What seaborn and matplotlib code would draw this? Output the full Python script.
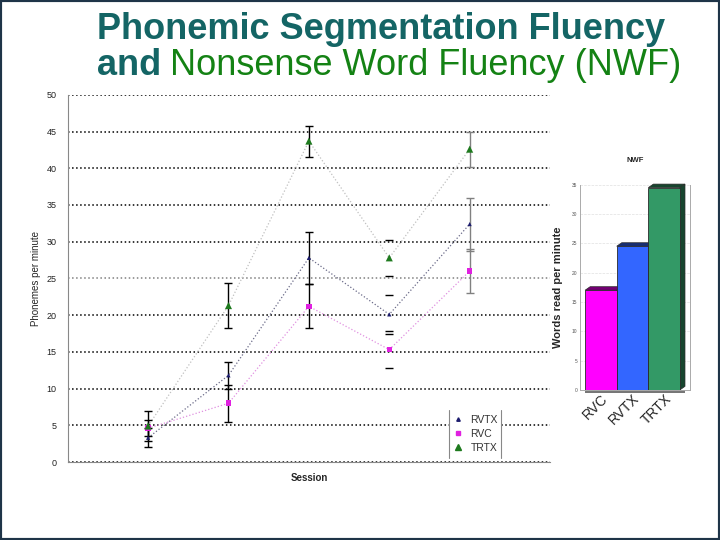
import pandas as pd
import matplotlib
matplotlib.use("Agg")
import matplotlib.pyplot as plt
import matplotlib.colors as mcolors
from matplotlib.patches import Polygon, Rectangle
from matplotlib.lines import Line2D
import seaborn as sns

# Phonemic segmentation fluency, mean and error per session
SESSIONS = [1, 2, 3, 4, 5]
GROUPS = ["RVTX", "RVC", "TRTX"]
RVTX_MEAN = [3.3, 11.8, 27.8, 20.1, 32.4]
RVTX_ERR = [1.3, 1.8, 3.5, 2.7, 3.6]
RVC_MEAN = [4.6, 8.0, 21.2, 15.3, 26.0]
RVC_ERR = [1.1, 2.5, 3.0, 2.5, 3.0]
TRTX_MEAN = [4.9, 21.3, 43.7, 27.8, 42.6]
TRTX_ERR = [2.1, 3.1, 2.1, 2.5, 2.4]

# Nonsense word fluency inset
NWF_GROUPS = ["RVC", "RVTX", "TRTX"]
NWF_MEAN = [17.0, 24.5, 34.5]

TEAL = "#146565"
GREEN = "#148214"
MARKER_COLORS = {"RVTX": "#1c1c6e", "RVC": "#e020e0", "TRTX": "#1e7a1e"}
LINE_COLORS = {"RVTX": "#6a6a88", "RVC": "#e090e0", "TRTX": "#c0c0c0"}
BAR_COLORS = ["#ff00ff", "#3366ff", "#339966"]


def build_frame():
    means = {"RVTX": RVTX_MEAN, "RVC": RVC_MEAN, "TRTX": TRTX_MEAN}
    errs = {"RVTX": RVTX_ERR, "RVC": RVC_ERR, "TRTX": TRTX_ERR}
    rows = []
    for g in GROUPS:
        for s, m, e in zip(SESSIONS, means[g], errs[g]):
            rows.append({"group": g, "session": s, "mean": m, "err": e})
    return pd.DataFrame(rows)


def plot_fluency():
    sns.set_style("white")
    plt.rcParams["font.family"] = ["Liberation Sans", "DejaVu Sans"]

    df = build_frame()
    fig = plt.figure(figsize=(7.2, 5.4), dpi=100)
    ax = fig.add_axes([0.094, 0.1444, 0.67, 0.68])

    # error bars first so markers sit on top
    err_colors = ["black", "black", "black", "black", "gray"]
    for _, r in df.iterrows():
        c = err_colors[int(r["session"]) - 1]
        cont = ax.errorbar(r["session"], r["mean"], yerr=r["err"], fmt="none",
                           ecolor=c, elinewidth=1.0, capsize=3, capthick=1.0, zorder=3)
        if r["session"] == 4:
            cont.lines[2][0].set_visible(False)

    sns.lineplot(data=df, x="session", y="mean", hue="group", palette=LINE_COLORS,
                 estimator=None, sort=False, linestyle=":", linewidth=0.9,
                 legend=False, ax=ax, zorder=2)
    sns.scatterplot(data=df, x="session", y="mean", hue="group", style="group",
                    size="group", palette=MARKER_COLORS,
                    markers={"RVTX": "^", "RVC": "s", "TRTX": "^"},
                    sizes={"RVTX": 9, "RVC": 16, "TRTX": 26},
                    edgecolor="none", legend=False, ax=ax, zorder=4)

    ax.set_xlim(0, 6)
    ax.set_ylim(0, 50)
    ax.set_xticks([])
    ax.set_yticks(range(0, 55, 5))
    ax.tick_params(axis="y", labelsize=6.5, length=0, pad=8, labelcolor="#222222")
    ax.set_ylabel("Phonemes per minute", fontsize=7, labelpad=4)
    ax.set_xlabel("Session", fontsize=7, fontweight="bold", labelpad=8)
    ax.grid(axis="y", linestyle=":", color="black", linewidth=1.1)
    ax.get_ygridlines()[5].set_color("gray")
    ax.set_axisbelow(True)
    for side in ["top", "right"]:
        ax.spines[side].set_visible(False)
    for side in ["left", "bottom"]:
        ax.spines[side].set_color("#888888")
        ax.spines[side].set_linewidth(0.8)

    # legend box with only side rules
    handles = [Line2D([], [], marker=m, linestyle="none", color=MARKER_COLORS[g], markersize=s)
               for g, m, s in zip(GROUPS, ["^", "s", "^"], [2.5, 3.5, 4.5])]
    ax.add_patch(Rectangle((0.79, 0.012), 0.108, 0.13, transform=ax.transAxes,
                           facecolor="white", edgecolor="none", zorder=5))
    for xa in [0.79, 0.898]:
        ax.add_line(Line2D([xa, xa], [0.012, 0.142], transform=ax.transAxes,
                           color="#888888", linewidth=0.8, zorder=6))
    leg = ax.legend(handles, GROUPS, loc="center", bbox_to_anchor=(0.844, 0.077),
                    frameon=False, fontsize=7.5, handletextpad=0.6, labelspacing=0.4,
                    handlelength=1.2)
    leg.set_zorder(7)
    for t in leg.get_texts():
        t.set_color("#333333")

    # NWF inset bar chart
    ax2 = fig.add_axes([0.8056, 0.278, 0.1528, 0.38])
    sns.barplot(x=NWF_GROUPS, y=NWF_MEAN, hue=NWF_GROUPS, palette=BAR_COLORS,
                saturation=1, width=1.0, edgecolor="#2a2a2a", linewidth=0.6,
                legend=False, ax=ax2, zorder=2)
    ax2.set_xlim(-0.66, 2.82)
    ax2.set_ylim(0, 35)
    dx, dy = 0.16, 0.6
    for p in ax2.patches:
        x0, w, h = p.get_x(), p.get_width(), p.get_height()
        dark = [c * 0.45 for c in mcolors.to_rgb(p.get_facecolor())]
        top = Polygon([(x0, h), (x0 + dx, h + dy), (x0 + w + dx, h + dy), (x0 + w, h)],
                      closed=True, facecolor=dark, edgecolor="#2a2a2a", linewidth=0.5,
                      zorder=1.5, clip_on=False)
        side = Polygon([(x0 + w, 0), (x0 + w + dx, dy), (x0 + w + dx, h + dy), (x0 + w, h)],
                       closed=True, facecolor=dark, edgecolor="#2a2a2a", linewidth=0.5,
                       zorder=1.5, clip_on=False)
        ax2.add_patch(top)
        ax2.add_patch(side)
    left = ax2.patches[0].get_x()
    ax2.add_patch(Rectangle((left, -0.5), 3 + dx, 0.5, facecolor="#777777",
                            edgecolor="none", zorder=1, clip_on=False))
    ax2.set_yticks(range(0, 40, 5))
    ax2.tick_params(axis="y", labelsize=3.5, length=0, pad=2, labelcolor="#555555")
    ax2.tick_params(axis="x", labelsize=10, length=0, pad=1)
    for lbl in ax2.get_xticklabels():
        lbl.set_rotation(45)
        lbl.set_ha("right")
        lbl.set_rotation_mode("anchor")
    ax2.yaxis.grid(True, color="#e0e0e0", linewidth=0.5, linestyle="--")
    ax2.set_axisbelow(True)
    ax2.spines["top"].set_visible(False)
    for side in ["left", "bottom", "right"]:
        ax2.spines[side].set_color("#aaaaaa")
        ax2.spines[side].set_linewidth(0.7)
    ax2.set_ylabel("Words read per minute", fontsize=8, fontweight="bold", labelpad=6)
    ax2.set_title("NWF", fontsize=5.5, fontweight="bold", pad=16)

    # title, two colours on the second line
    fig.text(0.1347, 0.9269, "Phonemic Segmentation Fluency", fontsize=26,
             fontweight="bold", color=TEAL, va="baseline")
    t_and = fig.text(0.1347, 0.8602, "and", fontsize=26, fontweight="bold",
                     color=TEAL, va="baseline")
    fig.canvas.draw()
    bb = t_and.get_window_extent().transformed(fig.transFigure.inverted())
    fig.text(bb.x1 + 0.012, 0.8602, "Nonsense Word Fluency (NWF)", fontsize=26,
             color=GREEN, va="baseline")

    fig.add_artist(Rectangle((0, 0), 1, 1, transform=fig.transFigure, fill=False,
                             edgecolor="#1e3448", linewidth=3))

    fig.savefig("out.png", dpi=100)
    plt.close(fig)


if __name__ == "__main__":
    plot_fluency()
